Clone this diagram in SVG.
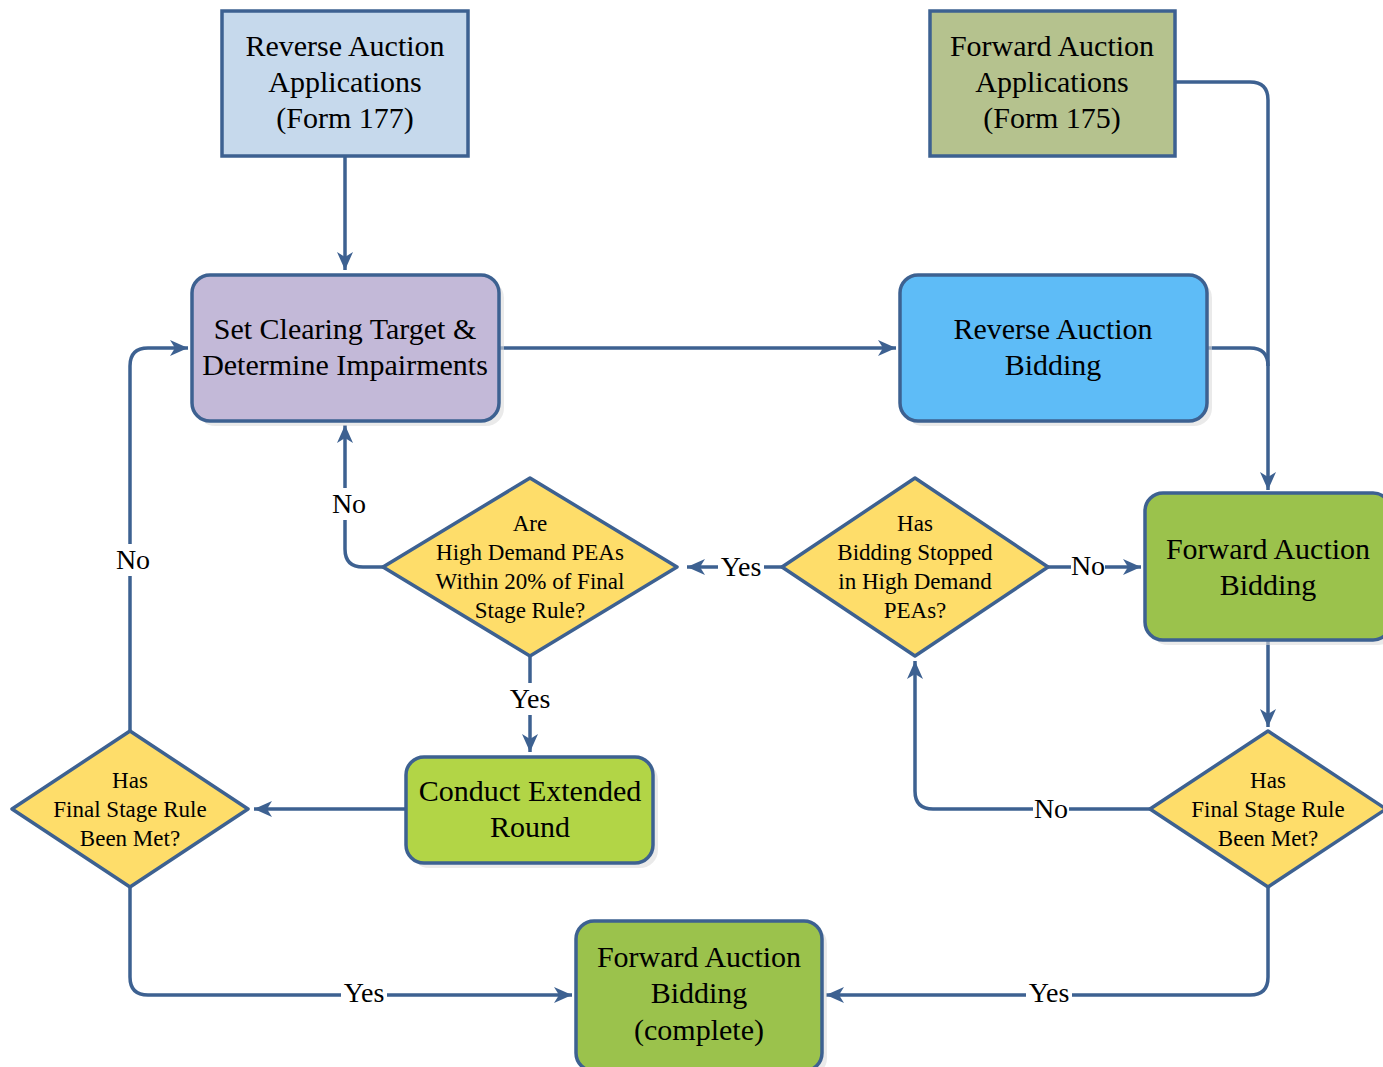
<svg xmlns="http://www.w3.org/2000/svg" width="1383" height="1067" viewBox="0 0 1383 1067">
<defs>
<marker id="arr" markerWidth="20" markerHeight="16" viewBox="0 0 20 16" refX="18" refY="8" markerUnits="userSpaceOnUse" orient="auto">
<path d="M0,0 L18,8 L0,16 L5,8 z" fill="#3d6191"/>
</marker>
</defs>
<style>
.box{stroke:#3d6191;stroke-width:3.5}
.sh{fill:#dcdcdc;opacity:0.6}
.dia{fill:#fedd6a;stroke:#3d6191;stroke-width:3.5;stroke-linejoin:round}
.t{font-family:"Liberation Serif","Times New Roman",serif;font-size:30px;fill:#000;text-anchor:middle}
.d{font-family:"Liberation Serif","Times New Roman",serif;font-size:23px;fill:#000;text-anchor:middle}
.l{font-family:"Liberation Serif","Times New Roman",serif;font-size:28px;fill:#000;text-anchor:middle}
.c{fill:none;stroke:#3d6191;stroke-width:3.5}
.lb{fill:#ffffff}
</style>
<rect width="1383" height="1067" fill="#ffffff"/>

<g id="connectors">
<path class="c" d="M345,156 V270" marker-end="url(#arr)"/>
<path class="c" d="M1175,82 H1250 Q1268,82 1268,100 V490" marker-end="url(#arr)"/>
<path class="c" d="M1207,348 H1250 Q1268,348 1268,366"/>
<path class="c" d="M499,348 H896" marker-end="url(#arr)"/>
<path class="c" d="M1268,640 V727" marker-end="url(#arr)"/>
<path class="c" d="M1150,809 H933 Q915,809 915,791 V661" marker-end="url(#arr)"/>
<path class="c" d="M1048,567 H1141" marker-end="url(#arr)"/>
<path class="c" d="M782,567 H687" marker-end="url(#arr)"/>
<path class="c" d="M383,567 H363 Q345,567 345,549 V425" marker-end="url(#arr)"/>
<path class="c" d="M530,656 V752" marker-end="url(#arr)"/>
<path class="c" d="M406,809 H254" marker-end="url(#arr)"/>
<path class="c" d="M130,731 V366 Q130,348 148,348 H188" marker-end="url(#arr)"/>
<path class="c" d="M130,887 V977 Q130,995 148,995 H572" marker-end="url(#arr)"/>
<path class="c" d="M1268,887 V977 Q1268,995 1250,995 H826" marker-end="url(#arr)"/>
<g id="labels">
<rect class="lb" x="718" y="551" width="46" height="32"/><text class="l" x="741" y="576">Yes</text>
<rect class="lb" x="1071" y="551" width="34" height="32"/><text class="l" x="1088" y="575">No</text>
<rect class="lb" x="331" y="488" width="36" height="32"/><text class="l" x="349" y="513">No</text>
<rect class="lb" x="507" y="683" width="46" height="32"/><text class="l" x="530" y="708">Yes</text>
<rect class="lb" x="114" y="544" width="38" height="32"/><text class="l" x="133" y="569">No</text>
<rect class="lb" x="1033" y="793" width="36" height="32"/><text class="l" x="1051" y="818">No</text>
<rect class="lb" x="341" y="978" width="46" height="32"/><text class="l" x="364" y="1002">Yes</text>
<rect class="lb" x="1026" y="978" width="46" height="32"/><text class="l" x="1049" y="1002">Yes</text>
</g>
</g>

<g id="rev-app">
<rect class="box" x="222" y="11" width="246" height="145" fill="#c6d9ec"/>
<text class="t" x="345" y="56">Reverse Auction</text>
<text class="t" x="345" y="92">Applications</text>
<text class="t" x="345" y="128">(Form 177)</text>
</g>

<g id="fwd-app">
<rect class="box" x="930" y="11" width="245" height="145" fill="#b5c28e"/>
<text class="t" x="1052" y="56">Forward Auction</text>
<text class="t" x="1052" y="92">Applications</text>
<text class="t" x="1052" y="128">(Form 175)</text>
</g>

<g id="set-target">
<rect class="sh" x="197" y="280" width="307" height="146" rx="18"/>
<rect class="box" x="192" y="275" width="307" height="146" rx="18" fill="#c3b9d8"/>
<text class="t" x="345" y="339">Set Clearing Target &amp;</text>
<text class="t" x="345" y="375">Determine Impairments</text>
</g>

<g id="rev-bid">
<rect class="sh" x="905" y="280" width="307" height="146" rx="18"/>
<rect class="box" x="900" y="275" width="307" height="146" rx="18" fill="#5ebcf7"/>
<text class="t" x="1053" y="339">Reverse Auction</text>
<text class="t" x="1053" y="375">Bidding</text>
</g>

<g id="fwd-bid">
<rect class="sh" x="1150" y="498" width="246" height="147" rx="18"/>
<rect class="box" x="1145" y="493" width="246" height="147" rx="18" fill="#9bc24c"/>
<text class="t" x="1268" y="559">Forward Auction</text>
<text class="t" x="1268" y="595">Bidding</text>
</g>

<g id="d-within">
<polygon class="dia" points="530,478 677,567 530,656 383,567"/>
<text class="d" x="530" y="531">Are</text>
<text class="d" x="530" y="560">High Demand PEAs</text>
<text class="d" x="530" y="589">Within 20% of Final</text>
<text class="d" x="530" y="618">Stage Rule?</text>
</g>

<g id="d-stopped">
<polygon class="dia" points="915,478 1048,567 915,656 782,567"/>
<text class="d" x="915" y="531">Has</text>
<text class="d" x="915" y="560">Bidding Stopped</text>
<text class="d" x="915" y="589">in High Demand</text>
<text class="d" x="915" y="618">PEAs?</text>
</g>

<g id="extended">
<rect class="sh" x="411" y="762" width="247" height="106" rx="18"/>
<rect class="box" x="406" y="757" width="247" height="106" rx="18" fill="#b2d546"/>
<text class="t" x="530" y="801">Conduct Extended</text>
<text class="t" x="530" y="837">Round</text>
</g>

<g id="d-final-left">
<polygon class="dia" points="130,731 248,809 130,887 12,809"/>
<text class="d" x="130" y="788">Has</text>
<text class="d" x="130" y="817">Final Stage Rule</text>
<text class="d" x="130" y="846">Been Met?</text>
</g>

<g id="d-final-right">
<polygon class="dia" points="1268,731 1386,809 1268,887 1150,809"/>
<text class="d" x="1268" y="788">Has</text>
<text class="d" x="1268" y="817">Final Stage Rule</text>
<text class="d" x="1268" y="846">Been Met?</text>
</g>

<g id="fwd-complete">
<rect class="sh" x="581" y="926" width="246" height="150" rx="18"/>
<rect class="box" x="576" y="921" width="246" height="150" rx="18" fill="#9bc24c"/>
<text class="t" x="699" y="967">Forward Auction</text>
<text class="t" x="699" y="1003">Bidding</text>
<text class="t" x="699" y="1040">(complete)</text>
</g>
</svg>
